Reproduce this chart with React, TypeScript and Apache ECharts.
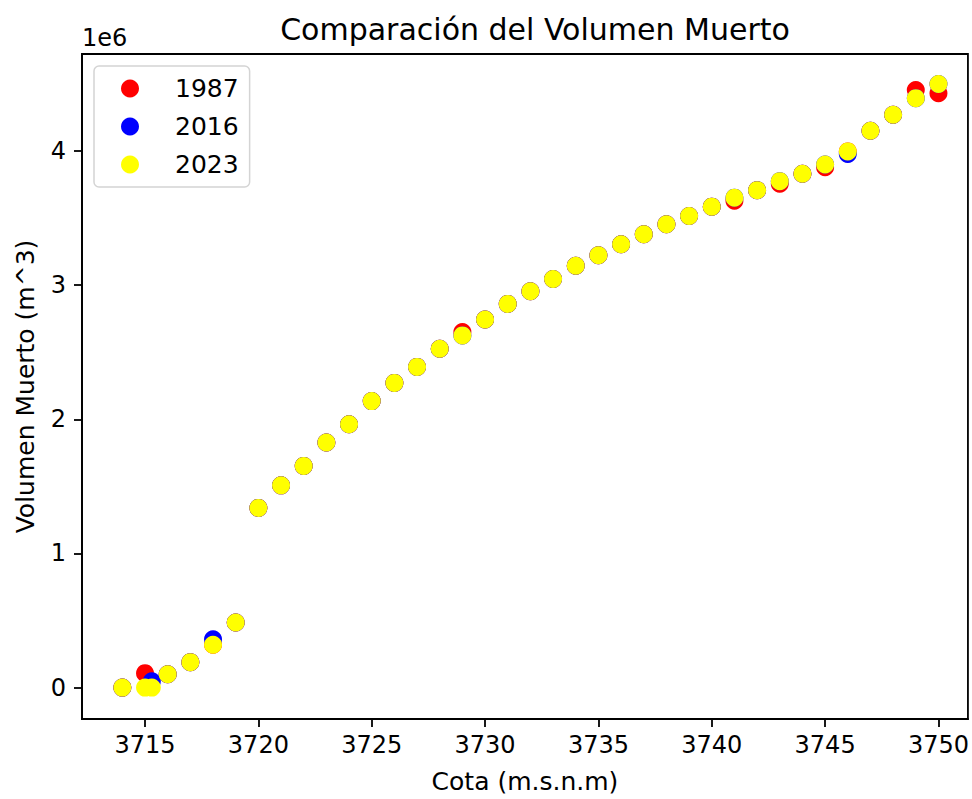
import React, { useEffect, useRef } from "react";
import * as echarts from "echarts";

// Tick labels
const xTicks = [3715, 3720, 3725, 3730, 3735, 3740, 3745, 3750];
const yTicks = [0, 1e6, 2e6, 3e6, 4e6];

// 1987 series
const cota1987 = [3714, 3715, 3716, 3717, 3718, 3719, 3720, 3721, 3722, 3723, 3724, 3725, 3726, 3727, 3728, 3729, 3730, 3731, 3732, 3733, 3734, 3735, 3736, 3737, 3738, 3739, 3740, 3741, 3742, 3743, 3744, 3745, 3746, 3747, 3748, 3749, 3750];
const vol1987 = [0, 108000, 100000, 190000, 320000, 486000, 1340000, 1508000, 1653000, 1827000, 1963000, 2136000, 2272000, 2391000, 2527000, 2651000, 2744000, 2861000, 2955000, 3046000, 3145000, 3224000, 3306000, 3380000, 3455000, 3516000, 3586000, 3630000, 3709000, 3757000, 3831000, 3880000, 3998000, 4152000, 4271000, 4456000, 4432000];

// 2016 series
const cota2016 = [3714, 3715.3, 3716, 3717, 3718, 3719, 3720, 3721, 3722, 3723, 3724, 3725, 3726, 3727, 3728, 3729, 3730, 3731, 3732, 3733, 3734, 3735, 3736, 3737, 3738, 3739, 3740, 3741, 3742, 3743, 3744, 3745, 3746, 3747, 3748, 3749, 3750];
const vol2016 = [0, 48000, 100000, 190000, 360000, 486000, 1340000, 1508000, 1653000, 1827000, 1963000, 2136000, 2272000, 2391000, 2527000, 2626000, 2744000, 2861000, 2955000, 3046000, 3145000, 3224000, 3306000, 3380000, 3455000, 3516000, 3586000, 3653000, 3709000, 3776000, 3831000, 3900000, 3979000, 4152000, 4271000, 4395000, 4500000];

// 2023 series
const cota2023 = [3714, 3715, 3715.3, 3716, 3717, 3718, 3719, 3720, 3721, 3722, 3723, 3724, 3725, 3726, 3727, 3728, 3729, 3730, 3731, 3732, 3733, 3734, 3735, 3736, 3737, 3738, 3739, 3740, 3741, 3742, 3743, 3744, 3745, 3746, 3747, 3748, 3749, 3750];
const vol2023 = [0, 0, 0, 100000, 190000, 320000, 486000, 1340000, 1508000, 1653000, 1827000, 1963000, 2136000, 2272000, 2391000, 2527000, 2626000, 2744000, 2861000, 2955000, 3046000, 3145000, 3224000, 3306000, 3380000, 3455000, 3516000, 3586000, 3653000, 3709000, 3776000, 3831000, 3900000, 3998000, 4152000, 4271000, 4395000, 4500000];

const zip = (xs: number[], ys: number[]) => xs.map((x, i) => [x, ys[i]]);

const FONT = "DejaVu Sans";

export default function App() {
  const ref = useRef<HTMLDivElement>(null);
  useEffect(() => {
    document.body.style.margin = "0";
    if (!ref.current) return;
    const chart = echarts.init(ref.current, undefined, { renderer: "svg" });
    const scatter = (name: string, data: number[][], color: string) => ({
      name,
      type: "scatter",
      data,
      symbol: "circle",
      symbolSize: 18,
      itemStyle: { color, opacity: 1 },
      emphasis: { disabled: true },
    });
    chart.setOption({
      animation: false,
      backgroundColor: "#ffffff",
      title: {
        text: "Comparación del Volumen Muerto",
        left: 530,
        textAlign: "center",
        top: 9,
        textStyle: { fontFamily: FONT, fontSize: 30, fontWeight: "normal", color: "#000" },
      },
      legend: {
        orient: "vertical",
        left: 94,
        top: 66,
        padding: [10, 11, 10, 27],
        itemWidth: 18,
        itemHeight: 18,
        itemGap: 13,
        icon: "circle",
        borderColor: "#d4d4d4",
        borderWidth: 1.5,
        borderRadius: 5,
        textStyle: { fontFamily: FONT, fontSize: 25, color: "#000", lineHeight: 25, padding: [0, 0, 0, 31] },
        data: ["1987", "2016", "2023"],
      },
      grid: {
        left: 82,
        top: 54,
        right: 4,
        bottom: 73,
        show: true,
        borderColor: "#000",
        borderWidth: 1.8,
        backgroundColor: "transparent",
      },
      xAxis: {
        type: "value",
        min: 3712.22,
        max: 3751.3,
        name: "Cota (m.s.n.m)",
        nameLocation: "middle",
        nameGap: 50,
        nameTextStyle: { fontFamily: FONT, fontSize: 25, color: "#000" },
        axisLine: { show: true, onZero: false, lineStyle: { color: "#000", width: 1.8 } },
        axisTick: { show: true, length: 8, lineStyle: { color: "#000", width: 1.8 }, customValues: xTicks },
        axisLabel: {
          fontFamily: FONT,
          fontSize: 24,
          color: "#000",
          margin: 14,
          customValues: xTicks,
          formatter: (v: number) => String(v),
        },
        splitLine: { show: false },
      },
      yAxis: {
        type: "value",
        min: -234000,
        max: 4724000,
        name: "Volumen Muerto (m^3)",
        nameLocation: "middle",
        nameGap: 44,
        nameTextStyle: { fontFamily: FONT, fontSize: 25, color: "#000" },
        axisLine: { show: true, onZero: false, lineStyle: { color: "#000", width: 1.8 } },
        axisTick: { show: true, length: 8, lineStyle: { color: "#000", width: 1.8 }, customValues: yTicks },
        axisLabel: {
          fontFamily: FONT,
          fontSize: 24,
          color: "#000",
          margin: 16,
          customValues: yTicks,
          formatter: (v: number) => String(Math.round(v / 1e6)),
        },
        splitLine: { show: false },
      },
      graphic: [
        {
          type: "text",
          left: 82,
          top: 26,
          style: { text: "1e6", font: `24px '${FONT}'`, fill: "#000" },
        },
      ],
      series: [
        scatter("1987", zip(cota1987, vol1987), "#ff0000"),
        scatter("2016", zip(cota2016, vol2016), "#0000ff"),
        scatter("2023", zip(cota2023, vol2023), "#ffff00"),
      ],
    });
    return () => chart.dispose();
  }, []);
  return <div ref={ref} style={{ width: 972, height: 799 }} />;
}
